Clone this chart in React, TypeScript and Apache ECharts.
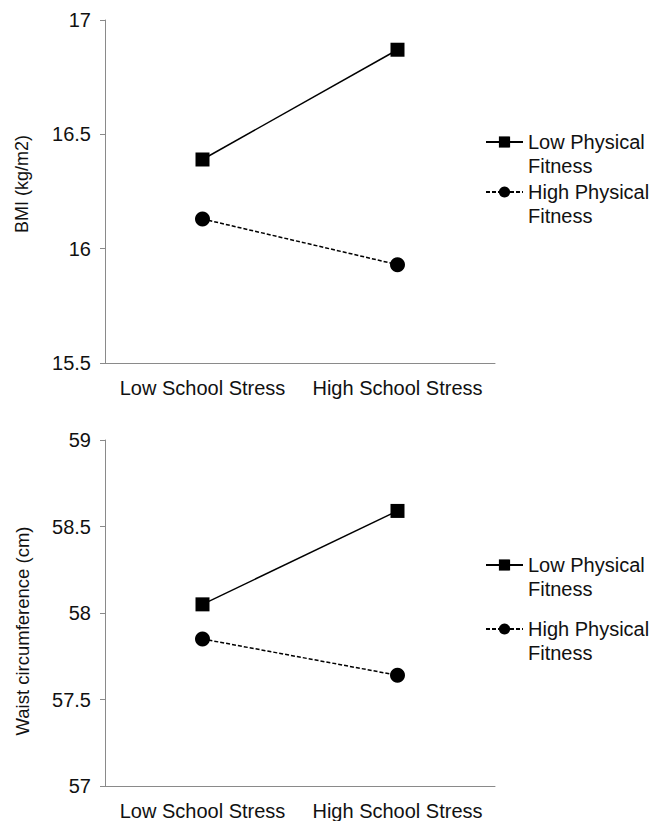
import React, { useEffect, useRef } from "react";
import * as echarts from "echarts";

const categories = ["Low School Stress", "High School Stress"];
const seriesNames = ["Low Physical Fitness", "High Physical Fitness"];

const bmiLowFitness = [16.39, 16.87];
const bmiHighFitness = [16.13, 15.93];
const waistLowFitness = [58.05, 58.59];
const waistHighFitness = [57.85, 57.64];

const bmiAxisMin = 15.5;
const bmiAxisMax = 17;
const waistAxisMin = 57;
const waistAxisMax = 59;
const tickInterval = 0.5;

const bmiTitle = "BMI (kg/m2)";
const waistTitle = "Waist circumference (cm)";

const FONT = "Arial, 'Liberation Sans', sans-serif";
const AXIS_GRAY = "#8a8a8a";
const TEXT = "#111";

export default function App() {
  const ref = useRef<HTMLDivElement>(null);
  useEffect(() => {
    if (!ref.current) return;
    const chart = echarts.init(ref.current, undefined, { renderer: "svg" });

    const xAxisBase = (gridIndex: number) => ({
      type: "category",
      gridIndex,
      data: categories,
      boundaryGap: true,
      axisLine: { lineStyle: { color: AXIS_GRAY, width: 1 } },
      axisTick: { alignWithLabel: true, inside: true, length: 4, lineStyle: { color: AXIS_GRAY } },
      axisLabel: { interval: 0, hideOverlap: false, fontSize: 20, color: TEXT, fontFamily: FONT, margin: 15 },
      splitLine: { show: false },
    });
    const yAxisBase = (gridIndex: number, min: number, max: number) => ({
      type: "value",
      gridIndex,
      min,
      max,
      interval: tickInterval,
      axisLine: { show: true, lineStyle: { color: AXIS_GRAY, width: 1 } },
      axisTick: { show: true, inside: false, length: 5, lineStyle: { color: AXIS_GRAY } },
      axisLabel: { fontSize: 20, color: TEXT, fontFamily: FONT, margin: 14 },
      splitLine: { show: false },
    });

    const mk = (name: string, data: number[], idx: number, low: boolean) => ({
      type: "line",
      name,
      data,
      xAxisIndex: idx,
      yAxisIndex: idx,
      symbol: low ? "rect" : "circle",
      symbolSize: low ? 14 : 15,
      itemStyle: { color: "#000" },
      lineStyle: { color: "#000", width: 1.5, type: low ? "solid" : [4, 2] },
      silent: true,
    });

    const legendBase = (top: number, gap: number) => ({
      data: seriesNames,
      orient: "vertical",
      left: 485,
      top,
      padding: 0,
      itemGap: gap,
      itemWidth: 37,
      itemHeight: 14,
      selectedMode: false,
      formatter: (n: string) => "\n" + n.replace(" Fitness", "\nFitness"),
      textStyle: {
        fontSize: 20,
        lineHeight: 24,
        color: TEXT,
        fontFamily: FONT,
      },
    });

    chart.setOption({
      animation: false,
      backgroundColor: "#fff",
      grid: [
        { left: 105, top: 20, width: 390, height: 343 },
        { left: 105, top: 440, width: 390, height: 347 },
      ],
      xAxis: [xAxisBase(0), xAxisBase(1)],
      yAxis: [
        yAxisBase(0, bmiAxisMin, bmiAxisMax),
        yAxisBase(1, waistAxisMin, waistAxisMax),
      ],
      legend: [legendBase(106, -22), legendBase(529, -8)],
      series: [
        mk(seriesNames[0], bmiLowFitness, 0, true),
        mk(seriesNames[1], bmiHighFitness, 0, false),
        mk(seriesNames[0], waistLowFitness, 1, true),
        mk(seriesNames[1], waistHighFitness, 1, false),
      ],
      graphic: [
        {
          type: "text",
          x: 22,
          y: 184,
          rotation: Math.PI / 2,
          style: {
            text: bmiTitle,
            fontSize: 18,
            fontFamily: FONT,
            fill: TEXT,
            align: "center",
            verticalAlign: "middle",
          },
        },
        {
          type: "text",
          x: 22,
          y: 631,
          rotation: Math.PI / 2,
          style: {
            text: waistTitle,
            fontSize: 18.5,
            fontFamily: FONT,
            fill: TEXT,
            align: "center",
            verticalAlign: "middle",
          },
        },
      ],
    });
    return () => chart.dispose();
  }, []);
  return (
    <div
      ref={ref}
      style={{ position: "fixed", left: 0, top: 0, width: 651, height: 821 }}
    />
  );
}
